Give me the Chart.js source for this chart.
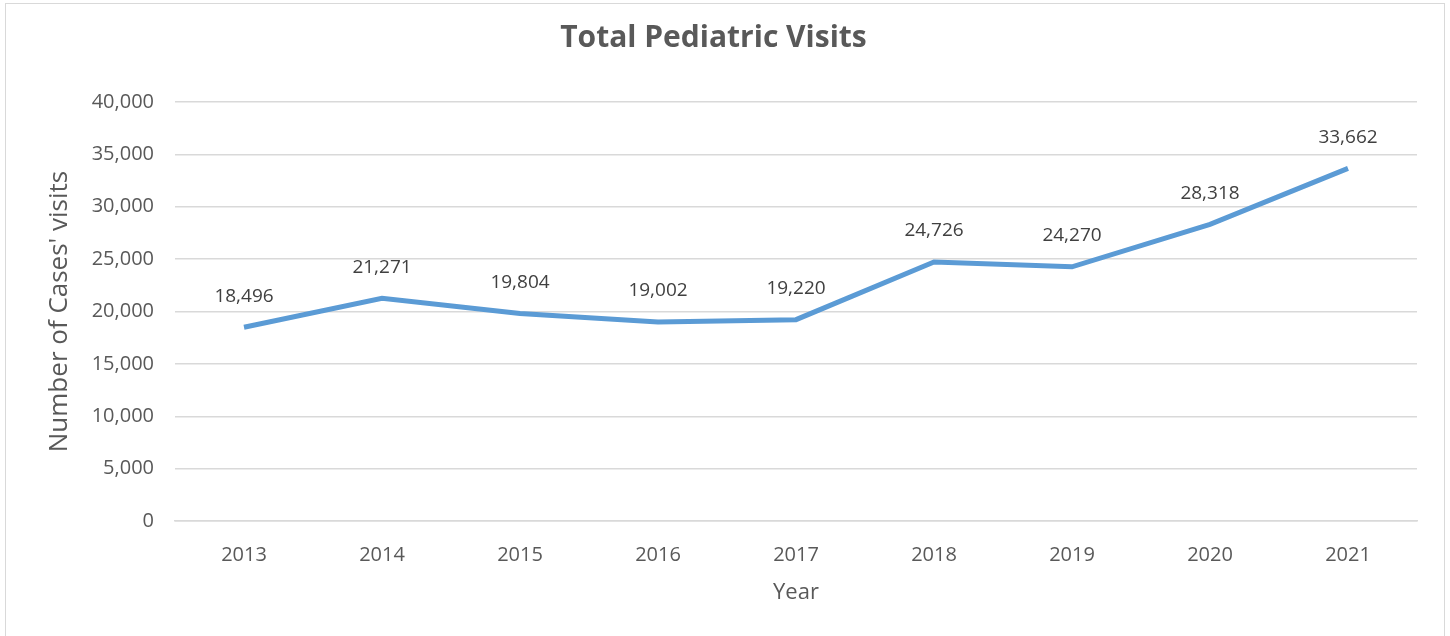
<!DOCTYPE html>
<html>
<head>
<meta charset="utf-8">
<script src="https://cdn.jsdelivr.net/npm/chart.js@4/dist/chart.umd.min.js"></script>
<style>
    html, body { margin: 0; padding: 0; background: #fff; }
    #wrap { position: relative; width: 1450px; height: 636px; overflow: hidden; }
    #frame { position: absolute; left: 5px; top: 3px; width: 1440px; height: 700px; border: 1.5px solid #d9d9d9; box-sizing: border-box; }
    #chart { position: absolute; left: 0; top: 0; }
</style>
</head>
<body>
<div id="wrap">
    <div id="frame"></div>
    <canvas id="chart" width="1450" height="636"></canvas>
</div>
<script>
    var years = ['2013', '2014', '2015', '2016', '2017', '2018', '2019', '2020', '2021'];
    var visits = [18496, 21271, 19804, 19002, 19220, 24726, 24270, 28318, 33662];
    var yTicks = [0, 5000, 10000, 15000, 20000, 25000, 30000, 35000, 40000];

    var textColor = '#595959';
    var fontFamily = '"Open Sans", "Noto Sans", sans-serif';

    // Value labels above each point
    var pointLabels = {
        id: 'pointLabels',
        afterDatasetsDraw: function(chart) {
            var ctx = chart.ctx;
            var meta = chart.getDatasetMeta(0);
            ctx.save();
            ctx.font = '19px ' + fontFamily;
            ctx.fillStyle = '#404040';
            ctx.textAlign = 'center';
            ctx.textBaseline = 'middle';
            meta.data.forEach(function(pt, i) {
                ctx.fillText(visits[i].toLocaleString('en-US'), pt.x, pt.y - 31);
            });
            ctx.restore();
        }
    };

    var ctx = document.getElementById('chart').getContext('2d');
    new Chart(ctx, {
        type: 'line',
        data: {
            labels: years,
            datasets: [{
                data: visits,
                borderColor: '#5b9bd5',
                borderWidth: 5,
                pointRadius: 0,
                tension: 0,
                fill: false
            }]
        },
        options: {
            responsive: false,
            animation: false,
            layout: { padding: { left: 10, right: 33, top: 0, bottom: 26 } },
            plugins: {
                legend: { display: false },
                tooltip: { enabled: false },
                title: {
                    display: true,
                    text: 'Total Pediatric Visits',
                    color: textColor,
                    font: { family: fontFamily, size: 30, weight: 'bold' },
                    padding: { top: 20, bottom: 46 }
                }
            },
            scales: {
                x: {
                    offset: true,
                    grid: { display: false },
                    border: { color: '#d9d9d9', width: 1.5 },
                    ticks: { color: textColor, font: { family: fontFamily, size: 20 }, padding: 14 },
                    title: {
                        display: true,
                        text: 'Year',
                        color: textColor,
                        font: { family: fontFamily, size: 22 },
                        padding: { top: 10 }
                    },
                    afterFit: function(scale) { scale.height = 89; }
                },
                y: {
                    min: 0,
                    max: 40000,
                    afterBuildTicks: function(scale) {
                        scale.ticks = yTicks.map(function(v) { return { value: v }; });
                    },
                    grid: { color: '#d9d9d9', lineWidth: 1.5, drawTicks: false },
                    border: { display: false },
                    ticks: {
                        color: textColor,
                        font: { family: fontFamily, size: 20 },
                        padding: 21,
                        callback: function(v) { return v.toLocaleString('en-US'); }
                    },
                    title: {
                        display: true,
                        text: "Number of Cases' visits",
                        color: textColor,
                        font: { family: fontFamily, size: 26 },
                        padding: { top: 34, bottom: 6 }
                    },
                    afterFit: function(scale) { scale.width = 165; }
                }
            }
        },
        plugins: [pointLabels]
    });
</script>
</body>
</html>
